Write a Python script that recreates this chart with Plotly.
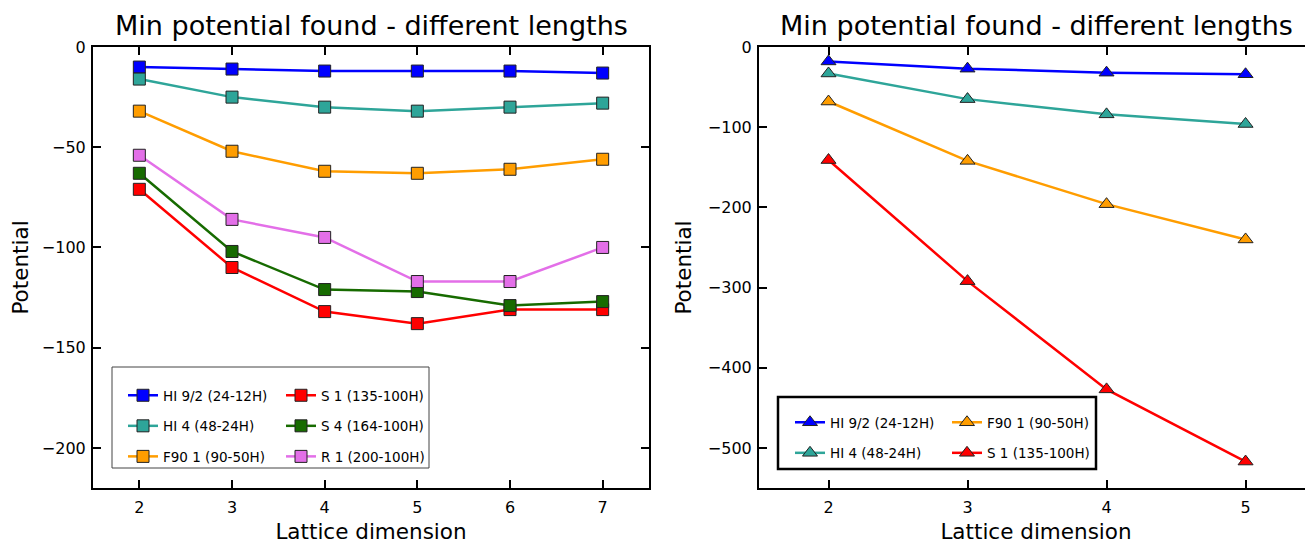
import plotly.graph_objects as go

# ---------------- data ----------------
dims_left = [2, 3, 4, 5, 6, 7]
left_names = ["HI 9/2 (24-12H)", "HI 4 (48-24H)", "F90 1 (90-50H)",
              "S 1 (135-100H)", "S 4 (164-100H)", "R 1 (200-100H)"]
hi92_left = [-10, -11, -12, -12, -12, -13]
hi4_left = [-16, -25, -30, -32, -30, -28]
f90_left = [-32, -52, -62, -63, -61, -56]
s1_left = [-71, -110, -132, -138, -131, -131]
s4_left = [-63, -102, -121, -122, -129, -127]
r1_left = [-54, -86, -95, -117, -117, -100]

dims_right = [2, 3, 4, 5]
right_names = ["HI 9/2 (24-12H)", "HI 4 (48-24H)", "F90 1 (90-50H)", "S 1 (135-100H)"]
hi92_right = [-18, -27, -32, -34]
hi4_right = [-33, -65, -84, -96]
f90_right = [-68, -142, -196, -240]
s1_right = [-141, -292, -427, -517]

colors = {
    "HI 9/2 (24-12H)": "#0000ff",
    "HI 4 (48-24H)": "#2ea599",
    "F90 1 (90-50H)": "#ff9d00",
    "S 1 (135-100H)": "#ff0000",
    "S 4 (164-100H)": "#176b00",
    "R 1 (200-100H)": "#e36fe8",
}

title_text = "Min potential found - different lengths"
FONT = "DejaVu Sans"

# ---------------- layout geometry (pixels) ----------------
OFF = 8  # page body margin
W, H = 1313 - OFF, 544 - OFF
ML, MR, MT, MB = 93 - OFF, 0, 47 - OFF, 56
PW = W - ML - MR
PH = H - MT - MB


def px_x(p):
    return (p - OFF - ML) / PW


def px_y(p):
    return (H - MB - (p - OFF)) / PH


fig = go.Figure()

left_series = [hi92_left, hi4_left, f90_left, s1_left, s4_left, r1_left]
left_legends = ["legend", "legend", "legend", "legend2", "legend2", "legend2"]
for i, (name, ys) in enumerate(zip(left_names, left_series)):
    fig.add_trace(go.Scatter(
        x=dims_left, y=ys, name=name, mode="lines+markers",
        line=dict(color=colors[name], width=2.5),
        marker=dict(symbol="square", size=12, color=colors[name],
                    line=dict(color="#222222", width=1)),
        xaxis="x", yaxis="y", legend=left_legends[i], legendgroup="L%d" % i,
    ))

right_series = [hi92_right, hi4_right, f90_right, s1_right]
right_legends = ["legend3", "legend3", "legend4", "legend4"]
for i, (name, ys) in enumerate(zip(right_names, right_series)):
    fig.add_trace(go.Scatter(
        x=dims_right, y=ys, name=name, mode="lines+markers",
        line=dict(color=colors[name], width=2.5),
        marker=dict(symbol="triangle-up", size=13, color=colors[name],
                    line=dict(color="#222222", width=1)),
        xaxis="x2", yaxis="y2", legend=right_legends[i], legendgroup="R%d" % i,
    ))

axis_common = dict(
    showline=True, linewidth=2, linecolor="black", mirror="ticks",
    ticks="inside", ticklen=8, tickwidth=1.5, tickcolor="black",
    showgrid=False, zeroline=False, automargin=False,
    tickfont=dict(size=16, color="black", family=FONT),
    title_font=dict(size=21.5, color="black", family=FONT),
)

legend_common = dict(
    xanchor="left", yanchor="top", bgcolor="rgba(0,0,0,0)", borderwidth=0,
    font=dict(size=13.5, color="black", family=FONT), tracegroupgap=10,
    orientation="v",
)

fig.update_layout(
    width=W, height=H,
    margin=dict(l=ML, r=MR, t=MT, b=MB, autoexpand=False),
    paper_bgcolor="white", plot_bgcolor="white",
    font=dict(family=FONT, color="black"),
    xaxis=dict(axis_common, domain=[0, px_x(649)], range=[1.5, 7.5],
               tick0=2, dtick=1, anchor="y", ticklabelstandoff=4,
               title=dict(text="Lattice dimension", standoff=8)),
    yaxis=dict(axis_common, domain=[0, 1], range=[-220, 0], dtick=50,
               anchor="x", ticklabelstandoff=2,
               title=dict(text="Potential", standoff=10)),
    xaxis2=dict(axis_common, domain=[px_x(759), 1], range=[1.5, 5.485],
                tick0=2, dtick=1, anchor="y2", ticklabelstandoff=4,
                title=dict(text="Lattice dimension", standoff=8)),
    yaxis2=dict(axis_common, domain=[0, 1], range=[-550, 0], dtick=100,
                anchor="x2", ticklabelstandoff=2,
                title=dict(text="Potential", standoff=10)),
    legend=dict(legend_common, x=px_x(123), y=px_y(380)),
    legend2=dict(legend_common, x=px_x(281), y=px_y(380)),
    legend3=dict(legend_common, x=px_x(790), y=px_y(407)),
    legend4=dict(legend_common, x=px_x(947), y=px_y(407)),
    shapes=[
        dict(type="rect", xref="paper", yref="paper",
             x0=px_x(112), x1=px_x(429), y0=px_y(468), y1=px_y(367),
             line=dict(color="#444444", width=1), fillcolor="rgba(0,0,0,0)"),
        dict(type="rect", xref="paper", yref="paper",
             x0=px_x(778), x1=px_x(1096), y0=px_y(469), y1=px_y(397),
             line=dict(color="black", width=2.5), fillcolor="rgba(0,0,0,0)"),
    ],
    annotations=[
        dict(text=title_text, xref="x domain", yref="y domain", x=0.5, y=1,
             xanchor="center", yanchor="bottom", yshift=4, showarrow=False,
             font=dict(size=27, color="black", family=FONT)),
        dict(text=title_text, xref="x2 domain", yref="y2 domain", x=0.5, y=1,
             xanchor="center", yanchor="bottom", yshift=4, showarrow=False,
             font=dict(size=27, color="black", family=FONT)),
    ],
)

fig.write_html("out.html")
